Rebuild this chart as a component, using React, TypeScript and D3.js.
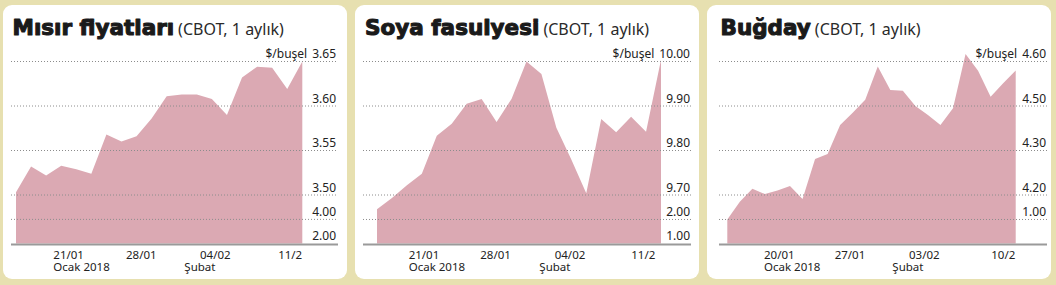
import React from 'react';
import * as d3 from 'd3';

// ---------- DATA ----------
const cornValues = [3.503, 3.532, 3.522, 3.533, 3.529, 3.524, 3.568, 3.560, 3.566, 3.586, 3.611, 3.613, 3.613, 3.608, 3.590, 3.632, 3.644, 3.643, 3.619, 3.650];
const cornTickLabels = ['3.65', '3.60', '3.55', '3.50', '4.00', '2.00'];
const cornTickValues = [3.65, 3.60, 3.55, 3.50, 3.4726, 3.4456];
const cornXLabels = ['21/01', '28/01', '04/02', '11/2'];
const cornXIdx = [2.48, 7.3, 12.21, 17.4];
const cornMonthLabels = ['Ocak 2018', 'Şubat'];
const cornMonthIdx = [2.48, 11.17];

const soyValues = [9.668, 9.693, 9.722, 9.748, 9.833, 9.860, 9.905, 9.916, 9.864, 9.916, 10.000, 9.972, 9.851, 9.780, 9.704, 9.871, 9.841, 9.876, 9.842, 10.004];
const soyTickLabels = ['10.00', '9.90', '9.80', '9.70', '2.00', '1.00'];
const soyTickValues = [10.0, 9.9, 9.8, 9.7, 9.645, 9.591];
const soyXLabels = ['21/01', '28/01', '04/02', '11/2'];
const soyXIdx = [2.12, 6.91, 11.89, 17.01];
const soyMonthLabels = ['Ocak 2018', 'Şubat'];
const soyMonthIdx = [2.12, 10.86];

const wheatValues = [4.145, 4.185, 4.214, 4.202, 4.210, 4.220, 4.191, 4.281, 4.292, 4.415, 4.470, 4.514, 4.589, 4.536, 4.534, 4.500, 4.460, 4.415, 4.490, 4.617, 4.579, 4.521, 4.551, 4.580];
const wheatTickLabels = ['4.60', '4.50', '4.30', '4.20', '1.00'];
const wheatTickValues = [4.60, 4.50, 4.30, 4.20, 4.145];
const wheatXLabels = ['20/01', '27/01', '03/02', '10/2'];
const wheatXIdx = [2.93, 8.56, 14.49, 21.05];
const wheatMonthLabels = ['Ocak 2018', 'Şubat'];
const wheatMonthIdx = [2.93, 13.16];

const titles = ['Mısır fiyatları', 'Soya fasulyesi', 'Buğday'];
const subtitle = '(CBOT, 1 aylık)';
const unitLabel = '$/buşel';

// ---------- LAYOUT ----------
const W = 1056;
const H = 285;
const BG = '#e7e0b0';
const AREA = '#dba9b3';
const INK = '#1a1a1a';
const ROW_TOP = 61.5;
const ROW_4 = 195;
const SMALL_FONT = "'Noto Sans', 'Open Sans', sans-serif";

const panels = [
  {
    left: 3, areaX0: 16, areaX1: 302.3, gridX0: 11, gridX1: 338, labelRight: 336, titleX: 12.5,
    values: cornValues, tickLabels: cornTickLabels, tickValues: cornTickValues, base: 3.4456,
    xLabels: cornXLabels, xIdx: cornXIdx, months: cornMonthLabels, monthIdx: cornMonthIdx,
    yDomain: [3.50, 3.65], yRange: [ROW_4, ROW_TOP],
  },
  {
    left: 355, areaX0: 377, areaX1: 661, gridX0: 363, gridX1: 691, labelRight: 690, titleX: 365,
    values: soyValues, tickLabels: soyTickLabels, tickValues: soyTickValues, base: 9.591,
    xLabels: soyXLabels, xIdx: soyXIdx, months: soyMonthLabels, monthIdx: soyMonthIdx,
    yDomain: [9.70, 10.0], yRange: [ROW_4, ROW_TOP],
  },
  {
    left: 707, areaX0: 727.3, areaX1: 1015.7, gridX0: 719, gridX1: 1047, labelRight: 1046, titleX: 720.5,
    values: wheatValues, tickLabels: wheatTickLabels, tickValues: wheatTickValues, base: 4.091,
    xLabels: wheatXLabels, xIdx: wheatXIdx, months: wheatMonthLabels, monthIdx: wheatMonthIdx,
    yDomain: [4.20, 4.30, 4.50, 4.60],
    yRange: [ROW_4, ROW_4 - (ROW_4 - ROW_TOP) / 3, ROW_TOP + (ROW_4 - ROW_TOP) / 3, ROW_TOP],
  },
];

function Panel({ p, title }: { p: any; title: string }) {
  const x = d3.scaleLinear().domain([0, p.values.length - 1]).range([p.areaX0, p.areaX1]);
  const y = d3.scaleLinear().domain(p.yDomain).range(p.yRange);
  const yBase = y(p.base);
  const area = d3
    .area<number>()
    .x((_, i) => x(i))
    .y0(yBase)
    .y1((d) => y(d));

  return (
    <g>
      <rect x={p.left} y={5} width={344} height={274} rx={9} ry={9} fill="#ffffff" />
      <text x={p.titleX} y={35} fill={INK}>
        <tspan
          fontFamily="'DejaVu Sans', sans-serif"
          fontWeight="bold"
          fontSize={21.5}
          stroke={INK}
          strokeWidth={1.1}
          strokeLinejoin="round"
        >
          {title}
        </tspan>
        <tspan dx={4} fontFamily={SMALL_FONT} fontSize={16} fill="#2a2a2a" stroke="none">
          {subtitle}
        </tspan>
      </text>

      <path d={area(p.values) || ''} fill={AREA} />

      {p.tickValues.map((v: number, i: number) => {
        const yy = y(v);
        const isBase = Math.abs(yy - yBase) < 1;
        return (
          <g key={i}>
            {!isBase && (
              <line
                x1={p.gridX0}
                x2={p.gridX1}
                y1={yy}
                y2={yy}
                stroke="#8c8c8c"
                strokeWidth={1}
                strokeDasharray="1 2"
              />
            )}
            <text
              x={p.labelRight}
              y={yy - 3.5}
              textAnchor="end"
              fontFamily={SMALL_FONT}
              fontSize={12}
              fill="#222"
            >
              {i === 0 && <tspan>{unitLabel}</tspan>}
              <tspan dx={i === 0 ? 5 : 0}>{p.tickLabels[i]}</tspan>
            </text>
          </g>
        );
      })}

      <line x1={p.gridX0} x2={p.gridX1} y1={yBase + 1} y2={yBase + 1} stroke="#9a9a9a" strokeWidth={2} />

      {p.xLabels.map((lab: string, i: number) => (
        <text key={'x' + i} x={x(p.xIdx[i])} y={258.5} fontFamily={SMALL_FONT} fontSize={11.5} fill="#222">
          {lab}
        </text>
      ))}
      {p.months.map((lab: string, i: number) => (
        <text key={'m' + i} x={x(p.monthIdx[i])} y={270.5} fontFamily={SMALL_FONT} fontSize={11.5} fill="#222">
          {lab}
        </text>
      ))}
    </g>
  );
}

export default function App() {
  return (
    <svg
      width={W}
      height={H}
      viewBox={`0 0 ${W} ${H}`}
      style={{ position: 'absolute', left: 0, top: 0, display: 'block' }}
    >
      <rect x={0} y={0} width={W} height={H} fill={BG} />
      {panels.map((p, i) => (
        <Panel key={i} p={p} title={titles[i]} />
      ))}
    </svg>
  );
}
